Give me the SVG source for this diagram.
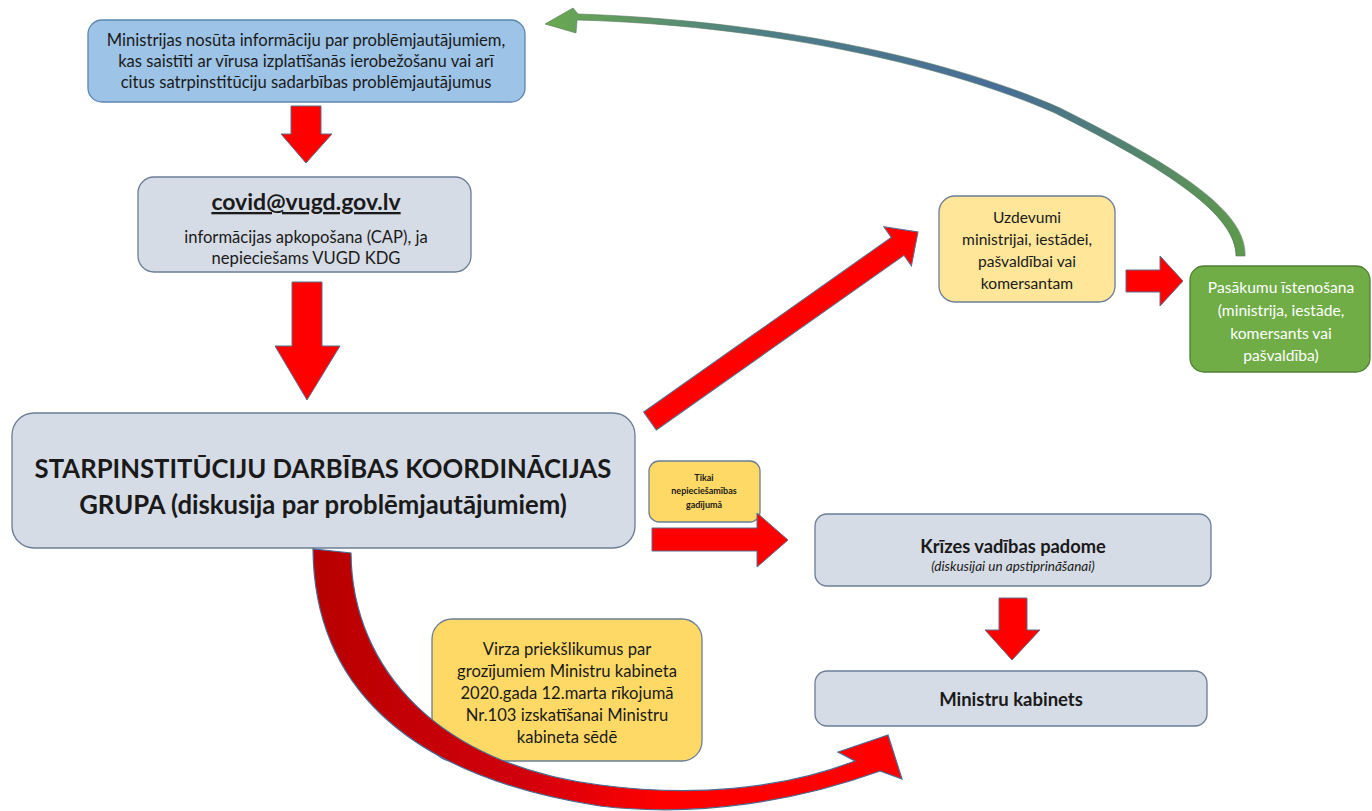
<svg xmlns="http://www.w3.org/2000/svg" width="1372" height="811" viewBox="0 0 1372 811">
<defs>
<style>
text{font-family:Lato,"Open Sans","Liberation Sans",sans-serif;fill:#1a1a1a;text-anchor:middle}
.box{stroke:#6b7d96;stroke-width:1.3}
.gray{fill:#d6dce5}
.blue{fill:#9dc3e6;stroke:#5b86b0}
.yl{fill:#ffe699}
.yd{fill:#ffd966}
.gr{fill:#70ad47;stroke:#4f7f36}
.t16{font-size:16.6px}
.t15{font-size:15.6px}
.b{font-weight:bold}
.wt{fill:#ffffff}
.arr{fill:#ff0000;stroke:#5a6f8c;stroke-width:1}
</style>
<linearGradient id="gGreen" gradientUnits="userSpaceOnUse" x1="545" y1="0" x2="1250" y2="0">
<stop offset="0" stop-color="#6aa84f"/>
<stop offset="0.3" stop-color="#4f7f86"/>
<stop offset="0.65" stop-color="#476d98"/>
<stop offset="1" stop-color="#5f9a4a"/>
</linearGradient>
<linearGradient id="gRed" gradientUnits="userSpaceOnUse" x1="313" y1="0" x2="900" y2="0">
<stop offset="0" stop-color="#b80000"/>
<stop offset="0.35" stop-color="#d0000c"/>
<stop offset="0.6" stop-color="#ff0000"/>
<stop offset="1" stop-color="#ff0000"/>
</linearGradient>
</defs>
<rect width="1372" height="811" fill="#ffffff"/>

<g id="n-ministrijas">
<rect class="box blue" x="88" y="20" width="437" height="82" rx="14"/>
<text class="t16" x="306" y="46">Ministrijas nosūta informāciju par problēmjautājumiem,</text>
<text class="t16" x="306" y="67">kas saistīti ar vīrusa izplatīšanās ierobežošanu vai arī</text>
<text class="t16" x="306" y="88">citus satrpinstitūciju sadarbības problēmjautājumus</text>
</g>

<g id="n-covid">
<rect class="box gray" x="138" y="177" width="333" height="95" rx="16"/>
<text class="b" x="306" y="210" font-size="23" text-decoration="underline">covid@vugd.gov.lv</text>
<text class="t16" x="306" y="243">informācijas apkopošana (CAP), ja</text>
<text class="t16" x="306" y="264">nepieciešams VUGD KDG</text>
</g>

<g id="n-grupa">
<rect class="box gray" x="12" y="413" width="623" height="135" rx="22"/>
<text class="b" x="323" y="478" font-size="25.7">STARPINSTITŪCIJU DARBĪBAS KOORDINĀCIJAS</text>
<text class="b" x="323" y="514" font-size="25.7">GRUPA (diskusija par problēmjautājumiem)</text>
</g>

<g id="n-uzdevumi">
<rect class="box yl" x="939" y="196" width="176" height="106" rx="16"/>
<text class="t15" x="1027" y="223">Uzdevumi</text>
<text class="t15" x="1027" y="245">ministrijai, iestādei,</text>
<text class="t15" x="1027" y="267">pašvaldībai vai</text>
<text class="t15" x="1027" y="289">komersantam</text>
</g>

<g id="n-pasakumu">
<rect class="gr" stroke-width="1.3" x="1190" y="266" width="180" height="106" rx="14"/>
<text class="t15 wt" x="1281" y="293">Pasākumu īstenošana</text>
<text class="t15 wt" x="1281" y="316">(ministrija, iestāde,</text>
<text class="t15 wt" x="1281" y="339">komersants vai</text>
<text class="t15 wt" x="1281" y="361">pašvaldība)</text>
</g>

<g id="n-tikai">
<rect class="box yd" x="649" y="461" width="111" height="61" rx="10"/>
<text class="b" x="704" y="481" font-size="9">Tikai</text>
<text class="b" x="704" y="494" font-size="9">nepieciešamības</text>
<text class="b" x="704" y="508" font-size="9">gadījumā</text>
</g>

<g id="n-krizes">
<rect class="box gray" x="815" y="514" width="396" height="72" rx="12"/>
<text class="b" x="1013" y="553" font-size="18.3">Krīzes vadības padome</text>
<text x="1013" y="571" font-size="13.5" font-style="italic">(diskusijai un apstiprināšanai)</text>
</g>

<g id="n-kabinets">
<rect class="box gray" x="815" y="671" width="392" height="55" rx="12"/>
<text class="b" x="1011" y="706" font-size="18.5">Ministru kabinets</text>
</g>

<g id="n-virza">
<rect class="box yd" x="432" y="619" width="270" height="142" rx="20"/>
<text class="t16" x="567" y="655">Virza priekšlikumus par</text>
<text class="t16" x="567" y="677">grozījumiem Ministru kabineta</text>
<text class="t16" x="567" y="699">2020.gada 12.marta rīkojumā</text>
<text class="t16" x="567" y="721">Nr.103 izskatīšanai Ministru</text>
<text class="t16" x="567" y="743">kabineta sēdē</text>
</g>

<g id="connectors">
<polygon class="arr" points="291,106 321,106 321,134 332,134 306,163 281,134 291,134"/>
<polygon class="arr" points="292,282 322,282 322,346 340,346 307,400 275,346 292,346"/>
<polygon class="arr" transform="translate(650,421) rotate(-35.2)" points="0,-11 303,-11 303,-24 328,0 303,24 303,11 0,11"/>
<polygon class="arr" points="1126,270 1160,270 1160,256 1183,281 1160,306 1160,292 1126,292"/>
<polygon class="arr" points="652,528 757,528 757,513 788,540 757,567 757,551 652,551"/>
<polygon class="arr" points="999,598 1027,598 1027,630 1040,630 1012,660 985,630 999,630"/>
<path fill="url(#gGreen)" stroke="#55755f" stroke-width="0.6" d="M1245,256 C1247,212 1180,168 1060,108 C940,55 760,20 578,14 L573,8 L545,24 L576,33 L577,20 C760,25 938,62 1055,113 C1170,171 1236,215 1236,256 Z"/>
<path fill="url(#gRed)" stroke="#4a6a90" stroke-width="1.2" d="M313,549 C314,680 400,775 600,806 C700,818 800,800 880,771 L902,779 L888,735 L838,752 L855,761 C780,790 690,797 600,785 C440,765 352,670 351,553 Z"/>
</g>
</svg>
